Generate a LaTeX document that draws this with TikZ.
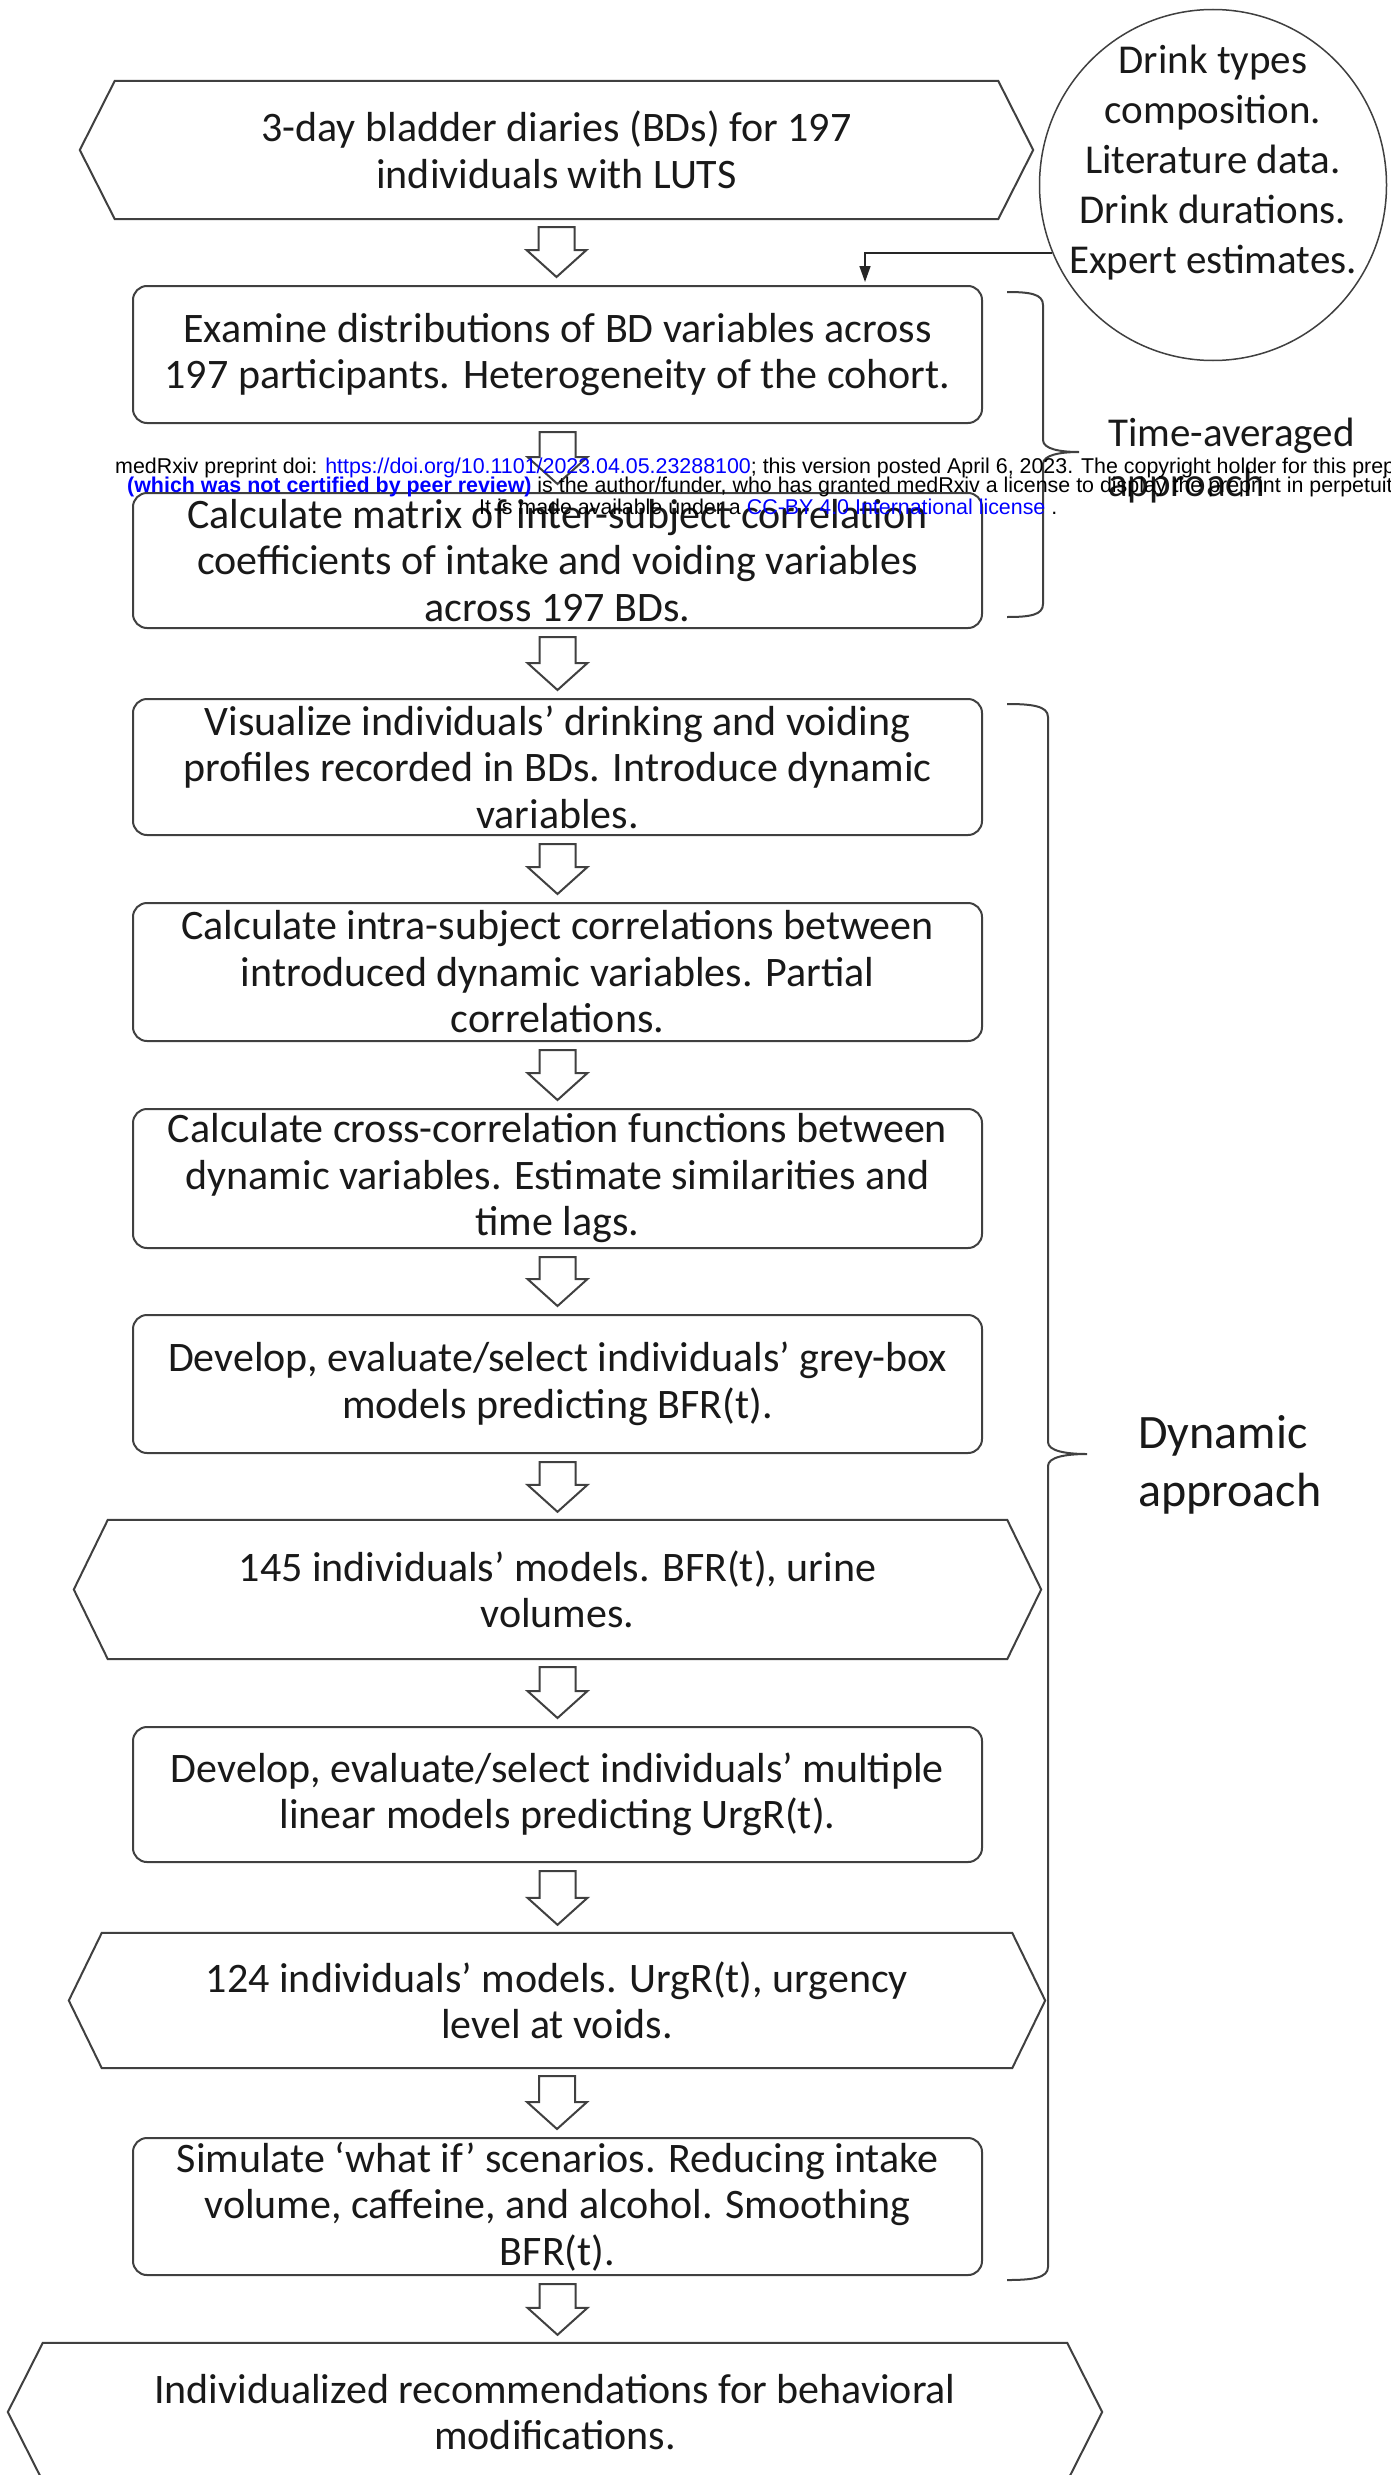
\documentclass[tikz,border=0pt]{standalone}
\usepackage{fontspec}
\setmainfont{Carlito}
\newfontfamily\wmfont{Liberation Sans}
\usetikzlibrary{calc,shapes.geometric,arrows.meta}
\definecolor{wmblue}{RGB}{0,0,255}
\definecolor{ln}{RGB}{64,64,64}
\newcommand\bxfont{\fontsize{42}{46.5}\selectfont}
\newcommand\crfont{\fontsize{41}{50}\selectfont}
\newcommand\tafont{\fontsize{41}{50}\selectfont}
\newcommand\dyfont{\fontsize{48}{58}\selectfont}
\newcommand\wmsize{\wmfont\fontsize{21.4}{20}\selectfont}
\newcommand\hexout[2]{\draw[hexline] (#1.north west) -- (#1.north east) -- ([xshift=#2]#1.east) -- (#1.south east) -- (#1.south west) -- ([xshift=-#2]#1.west) -- cycle;}
\newcommand\blkarrow[2]{\draw[blk] let \p1=(#1.south), \p2=(#2.north) in (\x1-18pt,\y1-8pt) -- (\x1+18pt,\y1-8pt) -- (\x1+18pt,\y2+35pt) -- (\x1+30pt,\y2+35pt) -- (\x1,\y2+8pt) -- (\x1-30pt,\y2+35pt) -- (\x1-18pt,\y2+35pt) -- cycle;}
\tikzset{
  rbox/.style={draw=ln, line width=2pt, rounded corners=14pt, minimum width=849pt, minimum height=137pt, align=center, inner sep=0pt, font=\bxfont, text=black!90},
  hexbody/.style={minimum height=138pt, align=center, inner sep=0pt, font=\bxfont, text=black!90},
  hexline/.style={draw=ln, line width=2pt, line join=miter},
  blk/.style={draw=ln, line width=2pt, fill=white, line join=miter},
  brace/.style={draw=ln, line width=2pt},
  wm/.style={anchor=base west, inner sep=0pt, font=\wmsize, text=black},
}
\begin{document}
\begin{tikzpicture}[x=1pt,y=-1pt]
\useasboundingbox (0,0) rectangle (1391,2475);
\fill[white] (0,0) rectangle (1391,2475);
\clip (0,0) rectangle (1391,2475);

% main flow
\node[hexbody, minimum width=883pt] (h1) at (556.5,150) {3-day bladder diaries (BDs) for 197\\individuals with LUTS};
\hexout{h1}{35pt}
\node[rbox] (b2) at (557.5,354.5) {Examine distributions of BD variables across\\197 participants. Heterogeneity of the cohort.};
\node[rbox, minimum height=135pt] (b3) at (557.5,560.5) {Calculate matrix of inter-subject correlation\\coefficients of intake and voiding variables\\across 197 BDs.};
\node[rbox, minimum height=136pt] (b4) at (557.5,767) {Visualize individuals’ drinking and voiding\\profiles recorded in BDs. Introduce dynamic\\variables.};
\node[rbox, minimum height=138pt] (b5) at (557.5,972) {Calculate intra-subject correlations between\\introduced dynamic variables. Partial\\correlations.};
\node[rbox, minimum height=139pt] (b6) at (557.5,1178.5) {Calculate cross-correlation functions between\\dynamic variables. Estimate similarities and\\time lags.};
\node[rbox, minimum height=138pt] (b7) at (557.5,1384) {Develop, evaluate/select individuals’ grey-box\\models predicting BFR(t).};
\node[hexbody, minimum width=899pt, minimum height=139pt] (h8) at (557.5,1589.5) {145 individuals’ models. BFR(t), urine\\volumes.};
\hexout{h8}{34pt}
\node[rbox, minimum height=135pt] (b9) at (557.5,1794.5) {Develop, evaluate/select individuals’ multiple\\linear models predicting UrgR(t).};
\node[hexbody, minimum width=910pt, minimum height=135pt] (h10) at (557,2000.5) {124 individuals’ models. UrgR(t), urgency\\level at voids.};
\hexout{h10}{33pt}
\node[rbox, minimum height=137pt] (b11) at (557.5,2206.5) {Simulate ‘what if’ scenarios. Reducing intake\\volume, caffeine, and alcohol. Smoothing\\BFR(t).};
\node[hexbody, minimum width=1024pt] (h12) at (555,2412) {Individualized recommendations for behavioral\\modifications.};
\hexout{h12}{35pt}

% block arrows
\blkarrow{h1}{b2}
\blkarrow{b2}{b3}
\blkarrow{b3}{b4}
\blkarrow{b4}{b5}
\blkarrow{b5}{b6}
\blkarrow{b6}{b7}
\blkarrow{b7}{h8}
\blkarrow{h8}{b9}
\blkarrow{b9}{h10}
\blkarrow{h10}{b11}
\blkarrow{b11}{h12}

% circle with input data
\node[draw=ln, line width=1.5pt, ellipse, minimum width=347pt, minimum height=351pt, inner sep=0pt] (circ) at (1213,185) {};
\node[font=\crfont, align=center, inner sep=0pt, text=black!90] (ctext) at (1213,163) {Drink types\\composition.\\Literature data.\\Drink durations.\\Expert estimates.};
\coordinate (cj) at (865,282);
\draw[draw=black!85, line width=1.5pt, -{Triangle[length=16pt,width=11pt]}] (circ.203) -| (cj);

% braces
\draw[brace] (1007,292) .. controls (1030,292) and (1043,294) .. (1043,305) -- (1043,440)
  .. controls (1043,449) and (1060,452) .. (1079,452) .. controls (1060,452) and (1043,455) .. (1043,464)
  -- (1043,604) .. controls (1043,615) and (1030,617) .. (1007,617);
\node[font=\tafont, align=left, anchor=west, inner sep=0pt, text=black!90] (ta) at (1108,461) {Time-averaged\\approach};
\draw[brace] (1007,704) .. controls (1032,704) and (1048,706) .. (1048,717) -- (1048,1442)
  .. controls (1048,1451) and (1066,1454) .. (1087,1454) .. controls (1066,1454) and (1048,1457) .. (1048,1466)
  -- (1048,2267) .. controls (1048,2278) and (1032,2280) .. (1007,2280);
\node[font=\dyfont, align=left, anchor=west, inner sep=0pt, text=black!90] (dy) at (1138,1465) {Dynamic\\approach};

% watermark
\node[wm] (wm1) at (115,473) {medRxiv preprint doi: \textcolor{wmblue}{https://doi.org/10.1101/2023.04.05.23288100}; this version posted April 6, 2023. The copyright holder for this preprint};
\node[wm] (wm2) at (127,492) {\textcolor{wmblue}{\bfseries (which was not certified by peer review)} is the author/funder, who has granted medRxiv a license to display the preprint in perpetuity.};
\node[wm] (wm3) at (479,514) {It is made available under a \textcolor{wmblue}{CC-BY 4.0 International license} .};
\end{tikzpicture}
\end{document}
